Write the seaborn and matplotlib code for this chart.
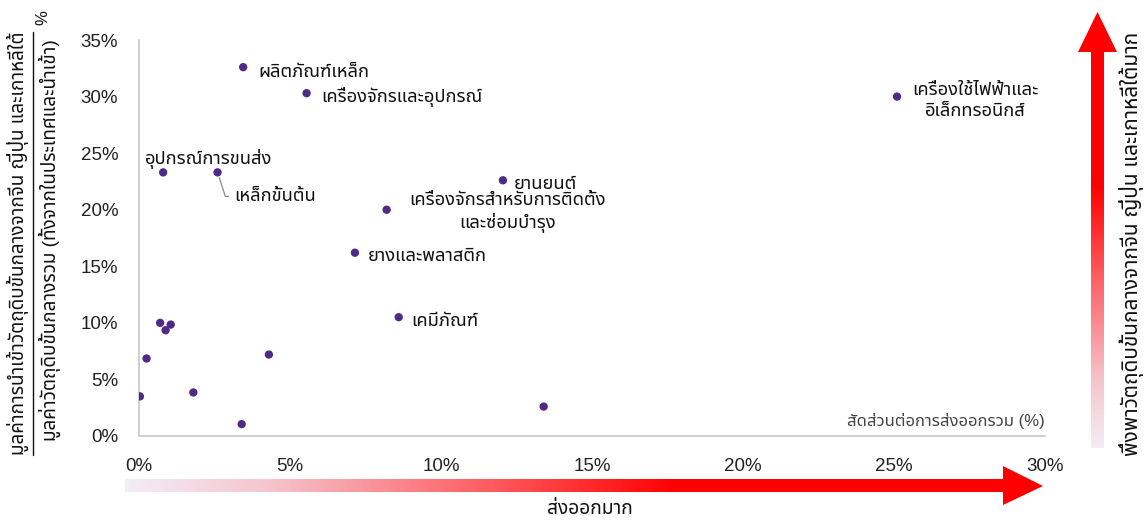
import numpy as np
import pandas as pd
import matplotlib
matplotlib.use("Agg")
import matplotlib.pyplot as plt
from matplotlib import font_manager as fm
from matplotlib.ft2font import FT2Font
from matplotlib.colors import LinearSegmentedColormap
from matplotlib.patches import Polygon
from matplotlib.lines import Line2D
from matplotlib.ticker import PercentFormatter
import seaborn as sns

# ---- data: export share (%) vs. share of intermediate inputs imported from CN/JP/KR (%)
sectors = [
    "ผลิตภัณฑ์เหล็ก",
    "เครื่องจักรและอุปกรณ์",
    "อุปกรณ์การขนส่ง",
    "เหล็กขั้นต้น",
    "ยานยนต์",
    "เครื่องจักรสำหรับการติดตั้ง\nและซ่อมบำรุง",
    "ยางและพลาสติก",
    "เคมีภัณฑ์",
    "เครื่องใช้ไฟฟ้าและ\nอิเล็กทรอนิกส์",
    "", "", "", "", "", "", "", "", "",
]
export_share = [3.45, 5.55, 0.8, 2.6, 12.05, 8.2, 7.15, 8.6, 25.1,
                13.4, 0.7, 1.05, 0.88, 0.25, 4.3, 0.03, 1.8, 3.4]
import_share = [32.6, 30.3, 23.3, 23.3, 22.6, 20.0, 16.2, 10.5, 30.0,
                2.6, 10.0, 9.85, 9.35, 6.85, 7.2, 3.5, 3.85, 1.05]
x_ticks = [0, 5, 10, 15, 20, 25, 30]
y_ticks = [0, 5, 10, 15, 20, 25, 30, 35]

y_label_top = "มูลค่าการนำเข้าวัตถุดิบขั้นกลางจากจีน ญี่ปุ่น และเกาหลีใต้"
y_label_bottom = "มูลค่าวัตถุดิบขั้นกลางรวม (ทั้งจากในประเทศและนำเข้า)"
x_axis_note = "สัดส่วนต่อการส่งออกรวม (%)"
x_arrow_text = "ส่งออกมาก"
y_arrow_text = "พึ่งพาวัตถุดิบขั้นกลางจากจีน ญี่ปุ่น และเกาหลีใต้มาก"

# label offsets in pixels from each point (dx, dy, ha)
label_offsets = [(15, -5, "left"), (15, -4, "left"), (-18, 13, "left"),
                 (17, -24, "left"), (11, -4, "left"), (121, -3, "center"),
                 (13, -4, "left"), (13, -4, "left"), (78, -4, "center")]


def find_thai_family():
    preferred = ["Noto Sans Thai", "Noto Sans Thai Looped", "Loma", "Garuda",
                 "Tlwg Typist", "Norasi", "Sarabun", "Tahoma"]
    names = {}
    for f in fm.fontManager.ttflist:
        names.setdefault(f.name, f.fname)
    for p in preferred:
        if p in names:
            return p
    for name, path in names.items():
        try:
            if 0x0E01 in FT2Font(path).get_charmap():
                return name
        except Exception:
            pass
    return "DejaVu Sans"


sns.set_theme(style="white")
thai = find_thai_family()
plt.rcParams["font.family"] = ["Liberation Sans", thai, "DejaVu Sans"]

W, H = 1146, 520
fig = plt.figure(figsize=(W / 100, H / 100), dpi=100)
ax = fig.add_axes([139 / W, 1 - 436 / H, (1045 - 139) / W, (436 - 40) / H])

df = pd.DataFrame({"export": export_share, "imports": import_share, "sector": sectors})
sns.scatterplot(data=df, x="export", y="imports", ax=ax, s=36,
                color="#4f2a86", edgecolor="none", zorder=3)

ax.set_xlim(0, 30)
ax.set_ylim(0, 35)
ax.set_xticks(x_ticks)
ax.set_yticks(y_ticks)
ax.xaxis.set_major_formatter(PercentFormatter(decimals=0))
ax.yaxis.set_major_formatter(PercentFormatter(decimals=0))
ax.tick_params(axis="x", length=0, pad=16, labelsize=13.5, colors="#222222")
ax.tick_params(axis="y", length=0, pad=15, labelsize=13.5, colors="#222222")
ax.set_xlabel("")
ax.set_ylabel("")
for side in ["top", "right"]:
    ax.spines[side].set_visible(False)
for side in ["left", "bottom"]:
    ax.spines[side].set_color("#c8c8c8")
    ax.spines[side].set_linewidth(1.2)
ax.grid(False)

for i, (dx, dy, ha) in enumerate(label_offsets):
    kw = {}
    if i == 3:
        kw["arrowprops"] = dict(arrowstyle="-", color="#8a8a8a", lw=0.9,
                                shrinkA=2, shrinkB=4,
                                connectionstyle="angle,angleA=0,angleB=-72,rad=0")
    ax.annotate(sectors[i], (export_share[i], import_share[i]),
                xytext=(dx, dy), textcoords="offset pixels",
                ha=ha, va="center", multialignment="center",
                fontsize=13.2, color="#111111", linespacing=1.3, **kw)

ax.text(1.0, 0.038, x_axis_note, transform=ax.transAxes, ha="right",
        va="center", fontsize=12, color="#444444")

# ---- decoration layer in figure pixels
ov = fig.add_axes([0, 0, 1, 1], zorder=-1)
ov.set_xlim(0, W)
ov.set_ylim(H, 0)
ov.axis("off")

cmap = LinearSegmentedColormap.from_list(
    "fade_red", [(0.0, "#f3edf6"), (0.15, "#f5c6ce"), (0.4, "#ff5a5e"),
                 (0.6, "#ff0000"), (1.0, "#ff0000")])
grad = np.linspace(0, 1, 256)

# horizontal arrow
h_poly = Polygon([(125, 479), (1003, 479), (1003, 466), (1043, 486),
                  (1003, 505), (1003, 492), (125, 492)], closed=True,
                 facecolor="none", edgecolor="none")
ov.add_patch(h_poly)
im = ov.imshow(grad[None, :], cmap=cmap, extent=(125, 1043, 505, 466),
               aspect="auto", interpolation="bilinear")
im.set_clip_path(h_poly)

# vertical arrow
v_poly = Polygon([(1091, 448), (1091, 52), (1078, 52), (1097.5, 12),
                  (1117, 52), (1104, 52), (1104, 448)], closed=True,
                 facecolor="none", edgecolor="none")
ov.add_patch(v_poly)
im2 = ov.imshow(grad[::-1, None], cmap=cmap, extent=(1078, 1117, 448, 12),
                aspect="auto", interpolation="bilinear")
im2.set_clip_path(v_poly)

ov.text(590, 509, x_arrow_text, ha="center", va="center", fontsize=13.8,
        color="#111111")
ov.text(1132, 244, y_arrow_text, ha="center", va="center", rotation=90,
        fontsize=15, color="#111111")

# y-axis label as a fraction
ov.text(18, 243, y_label_top, ha="center", va="center", rotation=90,
        fontsize=13.6, color="#111111")
ov.add_line(Line2D([33, 33], [32, 455], color="#111111", lw=1.0))
ov.text(50, 240, y_label_bottom, ha="center", va="center", rotation=90,
        fontsize=13.6, color="#111111")
ov.text(43, 18, "%", ha="center", va="center", rotation=90,
        fontsize=12, color="#111111")

fig.savefig("out.png", dpi=100)
